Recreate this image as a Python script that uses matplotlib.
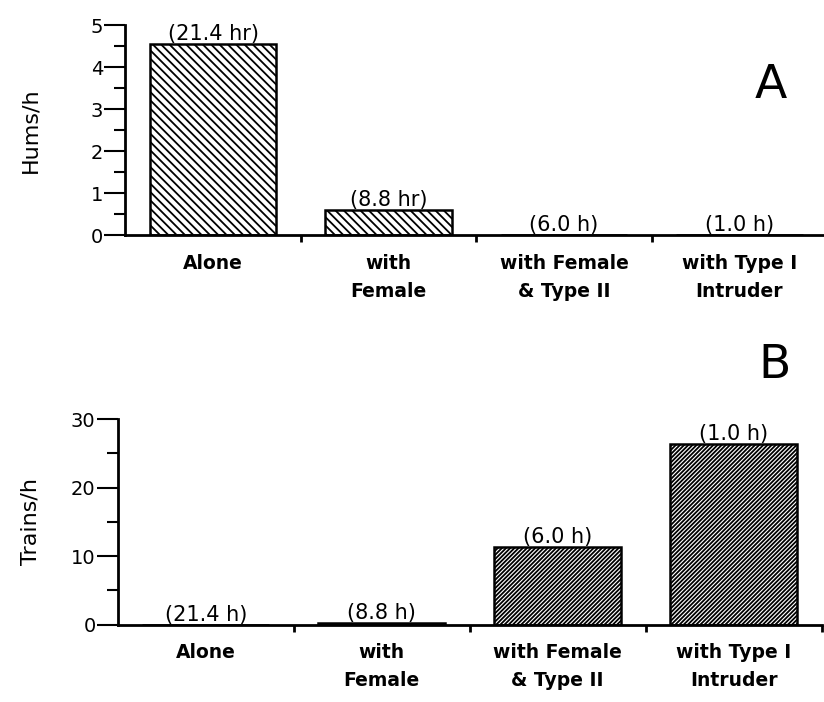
import numpy as np
import matplotlib.pyplot as plt

plt.rcParams['font.family'] = ['DejaVu Sans']
plt.rcParams['hatch.linewidth'] = 1.3

categories = ['Alone', 'with\nFemale', 'with Female\n& Type II', 'with Type I\nIntruder']
hums = [4.55, 0.6, 0.0, 0.0]
trains = [0.0, 0.3, 11.4, 26.3]
hours_a = ['(21.4 hr)', '(8.8 hr)', '(6.0 h)', '(1.0 h)']
hours_b = ['(21.4 h)', '(8.8 h)', '(6.0 h)', '(1.0 h)']

fig = plt.figure(figsize=(8.24, 7.02), dpi=100)
ax1 = fig.add_axes([0.152, 0.665, 0.852, 0.299])
ax2 = fig.add_axes([0.143, 0.110, 0.854, 0.293])

x = np.arange(len(categories))


def style_axis(ax, values, labels, ylim, major, minor, ylabel, lpad, hatch, letter, lpos):
    bars = ax.bar(x, values, width=0.72, color='white', edgecolor='black',
                  linewidth=1.8, hatch=hatch)
    for b, lab in zip(bars, labels):
        ax.text(b.get_x() + b.get_width() / 2, b.get_height(), lab,
                ha='center', va='bottom', fontsize=15)
    ax.set_xlim(-0.5, len(categories) - 0.5)
    ax.set_ylim(*ylim)
    ax.set_yticks(np.arange(ylim[0], ylim[1] + 0.01, major))
    ax.set_yticks(np.arange(ylim[0], ylim[1] + 0.01, minor), minor=True)
    ax.set_xticks(np.arange(len(categories)) + 0.5)
    ax.set_xticklabels([])
    ax.tick_params(axis='y', which='major', length=15, width=1.5, pad=1, labelsize=14)
    ax.tick_params(axis='y', which='minor', length=8, width=1.5)
    ax.tick_params(axis='x', length=5, width=2)
    for s in ['top', 'right']:
        ax.spines[s].set_visible(False)
    for s in ['left', 'bottom']:
        ax.spines[s].set_linewidth(2)
    ax.spines['bottom'].set_zorder(5)
    ax.set_ylabel(ylabel, fontsize=16, labelpad=lpad)
    for i, c in enumerate(categories):
        ax.text(i, -0.09, c, transform=ax.get_xaxis_transform(),
                ha='center', va='top', fontsize=13.5, fontweight='bold',
                linespacing=1.6)
    ax.text(lpos[0], lpos[1], letter, transform=ax.transAxes, fontsize=34,
            ha='center', va='center')


style_axis(ax1, hums, hours_a, (0, 5), 1, 0.5, 'Hums/h', 36, '\\\\\\\\',
           'A', (0.919, 0.714))
style_axis(ax2, trains, hours_b, (0, 30), 10, 5, 'Trains/h', 22, '////////',
           'B', (0.933, 1.26))

fig.savefig('out.png', dpi=100)
